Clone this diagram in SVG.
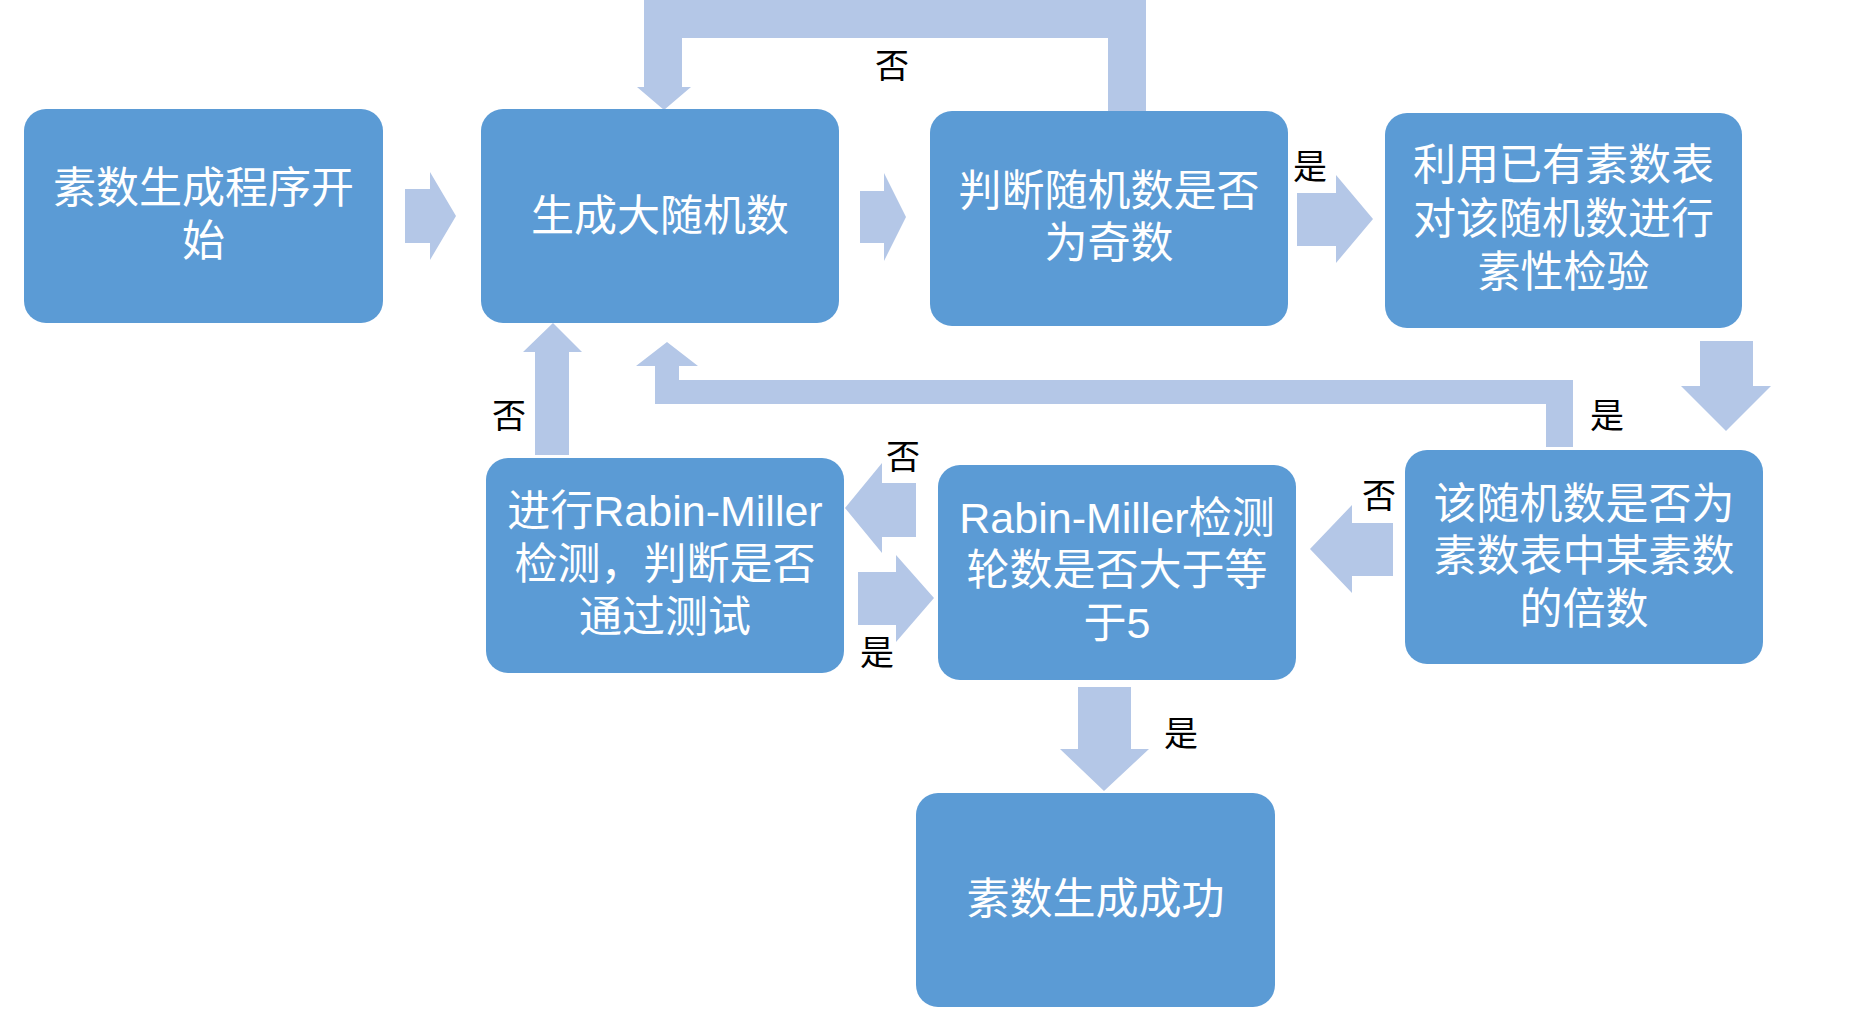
<svg xmlns="http://www.w3.org/2000/svg" width="1872" height="1034" viewBox="0 0 1872 1034">
<style>
.node{fill:#5B9BD5}
.nt{fill:#FFFFFF;font-family:"Liberation Sans","Noto Sans CJK SC",sans-serif;font-size:43px;text-anchor:middle}
.arr{fill:#B4C7E7}
.lbl{fill:#000000;font-family:"Noto Sans CJK SC",sans-serif;font-size:34px;text-anchor:middle}
</style>
<rect width="1872" height="1034" fill="#FFFFFF"/>
<g id="connectors">
<polygon class="arr" points="405,189 430,189 430,172 456,216 430,260 430,243 405,243"/>
<polygon class="arr" points="860,191 884,191 884,173 906,217 884,261 884,243 860,243"/>
<polygon class="arr" points="1297,193 1336,193 1336,175 1373,219 1336,263 1336,246 1297,246"/>
<polygon class="arr" points="1700,341 1753,341 1753,386 1771,386 1726,431 1681,386 1700,386"/>
<polygon class="arr" points="1393,523 1393,576 1352,576 1352,593 1310,549 1352,505 1352,523"/>
<polygon class="arr" points="916,483 916,537 882,537 882,553 845,508 882,463 882,483"/>
<polygon class="arr" points="858,572 896,572 896,555 934,598 896,642 896,625 858,625"/>
<polygon class="arr" points="535,455 535,352 523,352 553,323 582,352 569,352 569,455"/>
<polygon class="arr" points="1078,687 1131,687 1131,749 1149,749 1104,791 1060,749 1078,749"/>
<polygon class="arr" points="1108,111 1108,38 682,38 682,87 691,87 664,110 637,87 644,87 644,0 1146,0 1146,111"/>
<polygon class="arr" points="1546,447 1546,404 655,404 655,366 636,366 667,342 698,366 679,366 679,380 1573,380 1573,447"/>
<text class="lbl" x="892" y="78">否</text>
<text class="lbl" x="1310" y="179">是</text>
<text class="lbl" x="1607" y="428">是</text>
<text class="lbl" x="509" y="428">否</text>
<text class="lbl" x="903" y="469">否</text>
<text class="lbl" x="877" y="665">是</text>
<text class="lbl" x="1379" y="508">否</text>
<text class="lbl" x="1181" y="746">是</text>
</g>
<g id="n1">
<rect class="node" x="24" y="109" width="359" height="214" rx="22"/>
<text class="nt" x="203.5" y="203">素数生成程序开</text>
<text class="nt" x="203.5" y="256">始</text>
</g>
<g id="n2">
<rect class="node" x="481" y="109" width="358" height="214" rx="22"/>
<text class="nt" x="660" y="231">生成大随机数</text>
</g>
<g id="n3">
<rect class="node" x="930" y="111" width="358" height="215" rx="22"/>
<text class="nt" x="1109" y="206">判断随机数是否</text>
<text class="nt" x="1109" y="258">为奇数</text>
</g>
<g id="n4">
<rect class="node" x="1385" y="113" width="357" height="215" rx="22"/>
<text class="nt" x="1563.5" y="180">利用已有素数表</text>
<text class="nt" x="1563.5" y="234">对该随机数进行</text>
<text class="nt" x="1563.5" y="287">素性检验</text>
</g>
<g id="n5">
<rect class="node" x="1405" y="450" width="358" height="214" rx="22"/>
<text class="nt" x="1584" y="519">该随机数是否为</text>
<text class="nt" x="1584" y="571">素数表中某素数</text>
<text class="nt" x="1584" y="624">的倍数</text>
</g>
<g id="n6">
<rect class="node" x="938" y="465" width="358" height="215" rx="22"/>
<text class="nt" x="1117" y="533">Rabin-Miller检测</text>
<text class="nt" x="1117" y="585">轮数是否大于等</text>
<text class="nt" x="1117" y="638">于5</text>
</g>
<g id="n7">
<rect class="node" x="486" y="458" width="358" height="215" rx="22"/>
<text class="nt" x="665" y="526">进行Rabin-Miller</text>
<text class="nt" x="665" y="579">检测，判断是否</text>
<text class="nt" x="665" y="632">通过测试</text>
</g>
<g id="n8">
<rect class="node" x="916" y="793" width="359" height="214" rx="22"/>
<text class="nt" x="1095.5" y="914">素数生成成功</text>
</g>
</svg>
